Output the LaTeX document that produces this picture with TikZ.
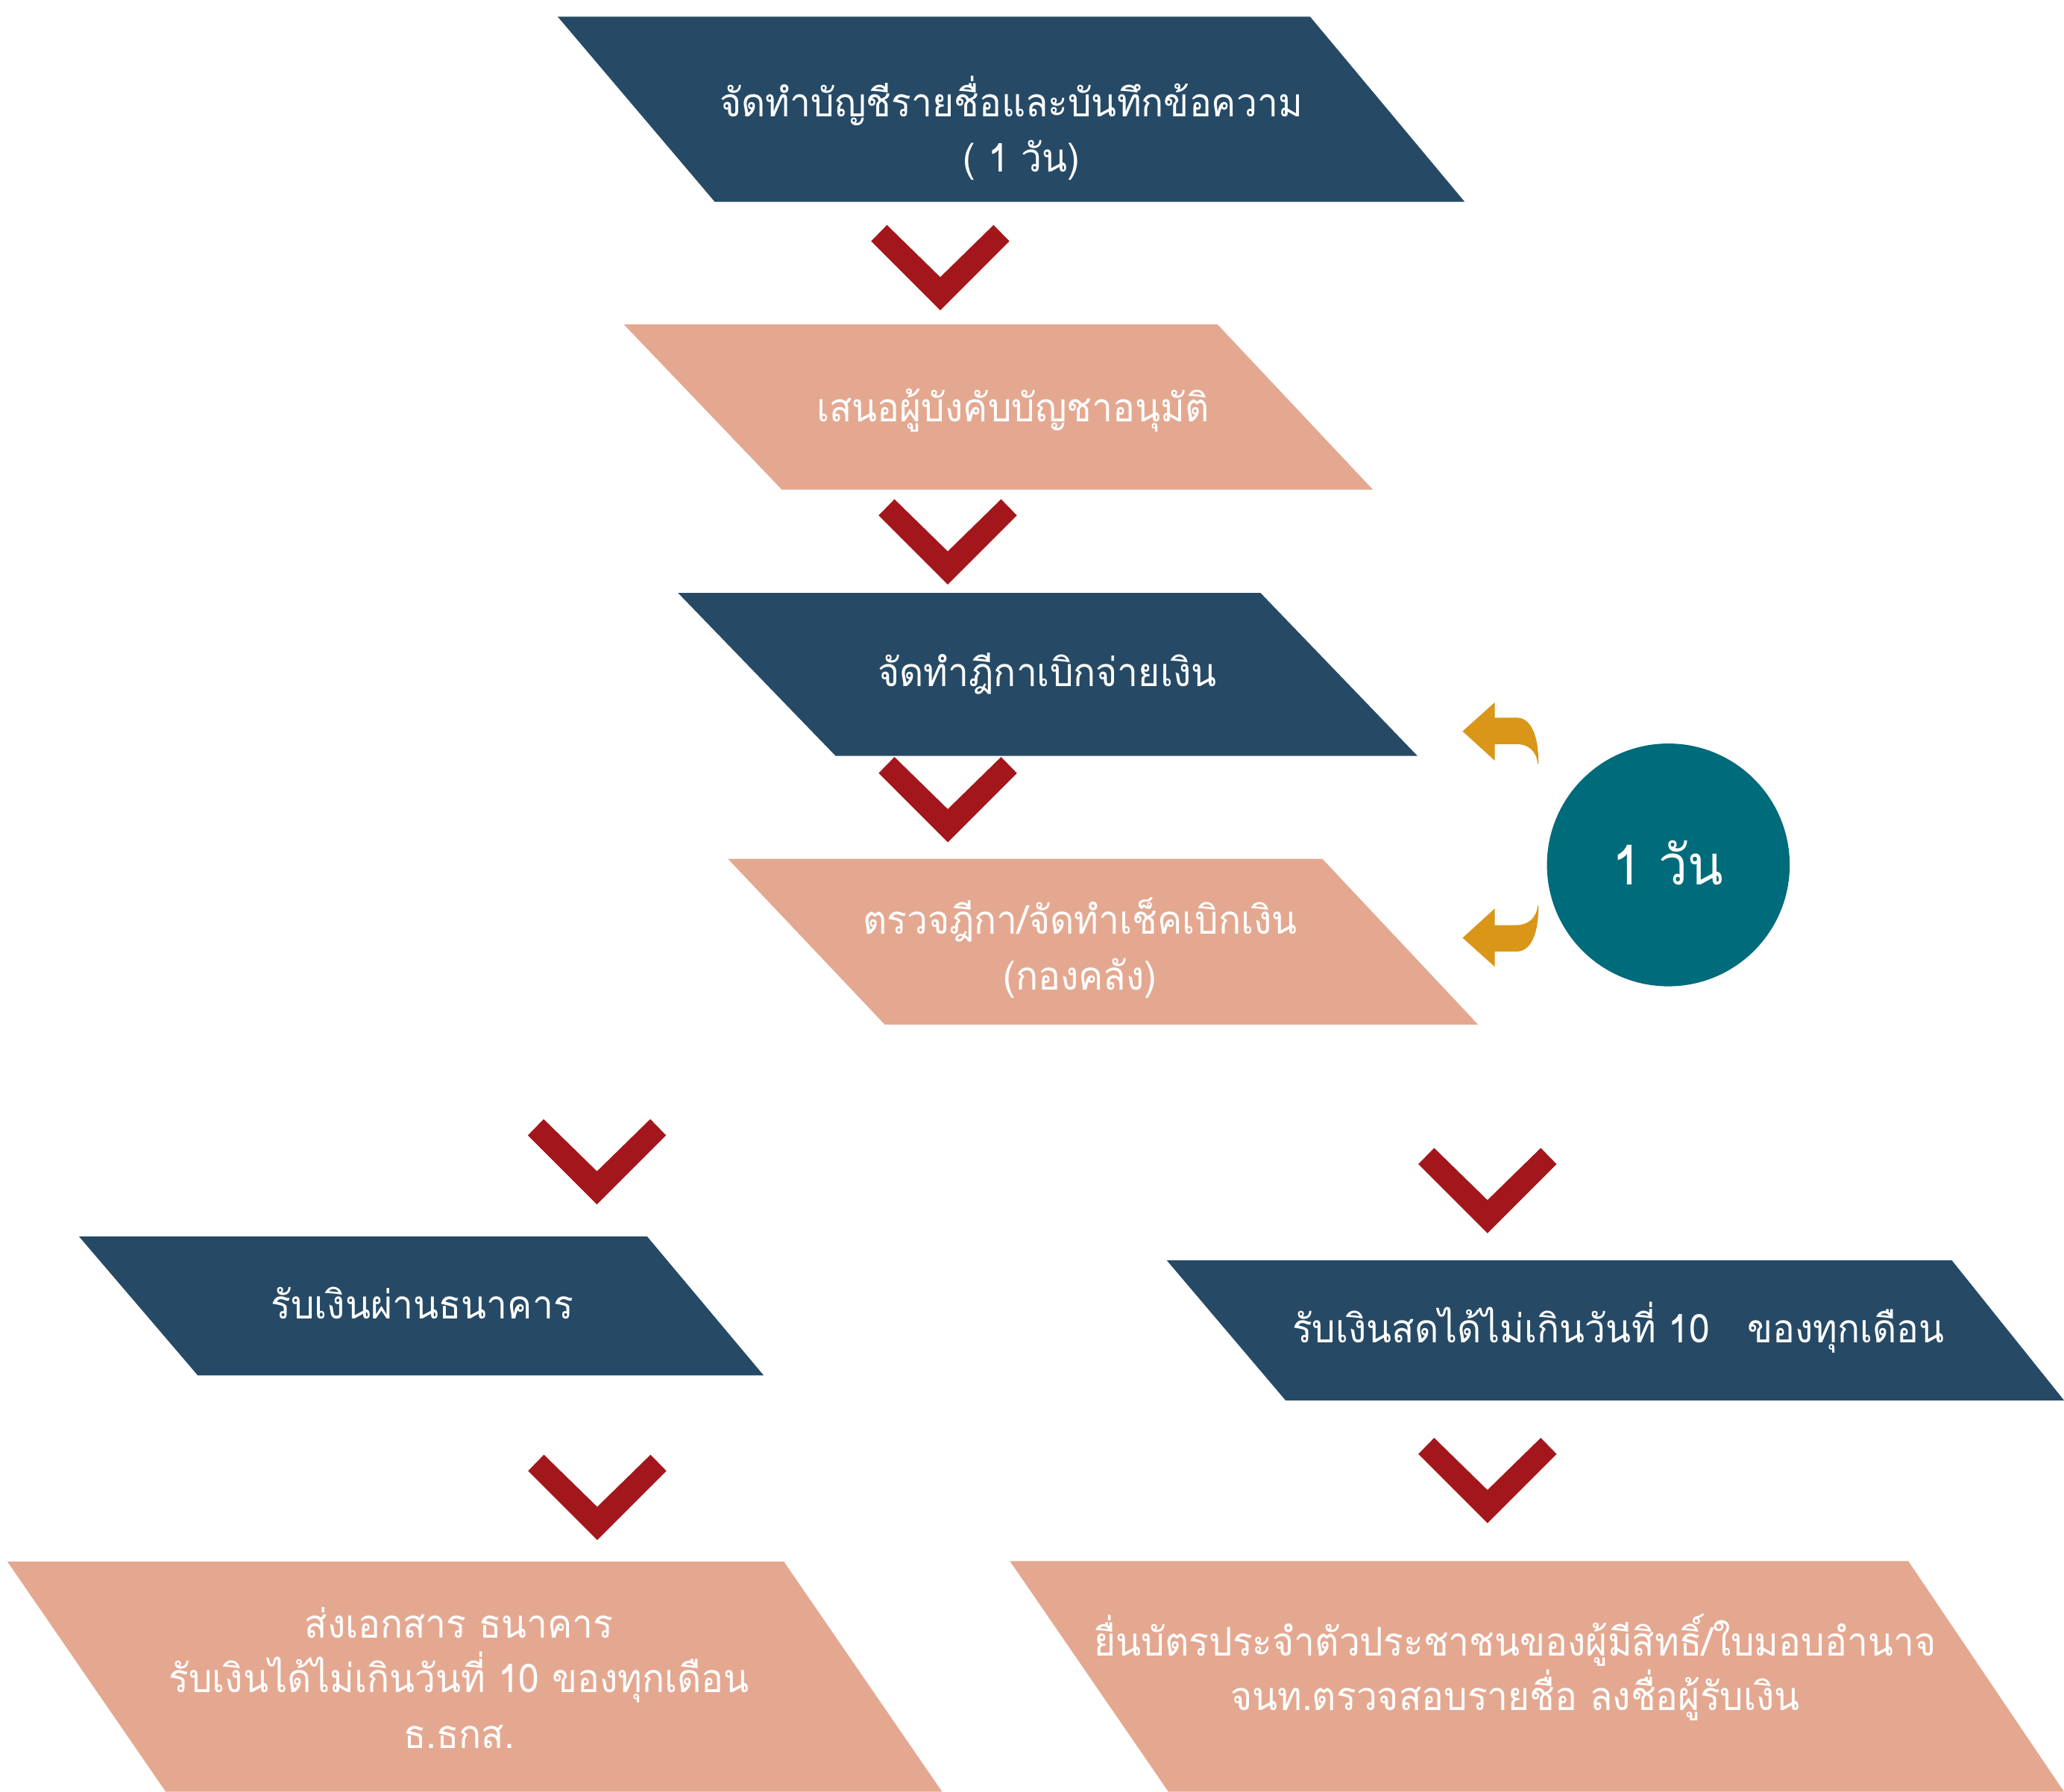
\documentclass[tikz,border=0pt]{standalone}
\usepackage{fontspec}
\newfontfamily\thaifont[Script=Thai,FakeStretch=0.94]{Loma}
\definecolor{navy}{HTML}{264A66}
\definecolor{peach}{HTML}{E4A891}
\definecolor{chevred}{HTML}{A3171C}
\definecolor{goldarrow}{HTML}{D99619}
\definecolor{tealdisc}{HTML}{006B7B}
\begin{document}
\begin{tikzpicture}[x=1pt,y=-1pt,
  navybox/.style={fill=navy},
  peachbox/.style={fill=peach},
  lbl/.style={text=white,inner sep=0pt,anchor=base,font=\thaifont\fontsize{30}{36}\selectfont},
  biglbl/.style={text=white,inner sep=0pt,anchor=base,font=\thaifont\fontsize{42}{50}\selectfont},
  chevron/.pic={\fill[chevred] (-52.5,12.3) -- (-40.5,0) -- (0,39.6) -- (40.5,0) -- (52.5,12.3) -- (0,64.8) -- cycle;},
  bentarrow/.pic={\fill[goldarrow] (0,0) -- (24.5,-22) -- (24.5,-10.4) -- (40.8,-10.4)
      .. controls (52,-10.4) and (57.7,3) .. (57.7,24.5) -- (57.1,24.5)
      .. controls (56,15) and (50,9.7) .. (40.8,9.7) -- (24.5,9.7) -- (24.5,22.3) -- cycle;}
]
\fill[white] (0,0) rectangle (1568,1361);
\useasboundingbox (0,0) rectangle (1568,1361);

% shapes
\fill[navybox] (423.7,12.7) -- (995.3,12.7) -- (1112.7,153.3) -- (543,153.3) -- cycle;
\fill[peachbox] (474,246.5) -- (925,246.5) -- (1043,372) -- (594,372) -- cycle;
\fill[navybox] (515.1,450.4) -- (957.6,450.4) -- (1076.8,574.2) -- (634.8,574.2) -- cycle;
\fill[peachbox] (552.9,652.3) -- (1004.5,652.3) -- (1122.9,778.3) -- (672.2,778.3) -- cycle;
\fill[navybox] (60,939.2) -- (491.6,939.2) -- (580.1,1044.7) -- (150.2,1044.7) -- cycle;
\fill[navybox] (886.4,957.4) -- (1482.8,957.4) -- (1568,1063.7) -- (976.6,1063.7) -- cycle;
\fill[peachbox] (5.6,1186.2) -- (595.5,1186.2) -- (715.7,1361) -- (125.9,1361) -- cycle;
\fill[peachbox] (767.2,1185.8) -- (1449.7,1185.8) -- (1568,1361) -- (887.6,1361) -- cycle;

% circle
\node[circle,fill=tealdisc,minimum size=184.4pt,inner sep=0pt] (day) at (1267.4,657) {};

% chevrons
\pic at (714.3,170.9) {chevron};
\pic at (720,379.2) {chevron};
\pic at (720,575) {chevron};
\pic at (453.5,850.1) {chevron};
\pic at (1130,872) {chevron};
\pic at (453.7,1105) {chevron};
\pic at (1130,1092.2) {chevron};

% curved arrows
\pic at (1111.1,555.5) {bentarrow};
\pic[yscale=-1] at (1111.1,712.4) {bentarrow};

% texts
\node[lbl] (t1a) at (768.2,88.4) {จัดทำบัญชีรายชื่อและบันทึกข้อความ};
\node[lbl] (t1b) at (776,130.3) {( 1 วัน)};
\node[lbl] (t2) at (769.5,320.1) {เสนอผู้บังคับบัญชาอนุมัติ};
\node[lbl] (t3) at (795.5,521.3) {จัดทำฎีกาเบิกจ่ายเงิน};
\node[lbl] (t4a) at (820.5,709.4) {ตรวจฎีกา/จัดทำเช็คเบิกเงิน};
\node[lbl] (t4b) at (820.5,752) {(กองคลัง)};
\node[biglbl] (tday) at (1267,671.9) {1 วัน};
\node[lbl] (tl1) at (320.7,1001.7) {รับเงินผ่านธนาคาร};
\node[lbl] (tr1) at (1229.5,1019.7) {รับเงินสดได้ไม่เกินวันที่ 10~~~ของทุกเดือน};
\node[lbl] (tl2a) at (348.8,1244) {ส่งเอกสาร ธนาคาร};
\node[lbl] (tl2b) at (348.8,1285.5) {รับเงินได้ไม่เกินวันที่ 10 ของทุกเดือน};
\node[lbl] (tl2c) at (348.8,1327.8) {ธ.ธกส.};
\node[lbl] (tr2a) at (1151,1257.6) {ยื่นบัตรประจำตัวประชาชนของผู้มีสิทธิ์/ใบมอบอำนาจ};
\node[lbl] (tr2b) at (1151,1299) {จนท.ตรวจสอบรายชื่อ ลงชื่อผู้รับเงิน};
\end{tikzpicture}
\end{document}
